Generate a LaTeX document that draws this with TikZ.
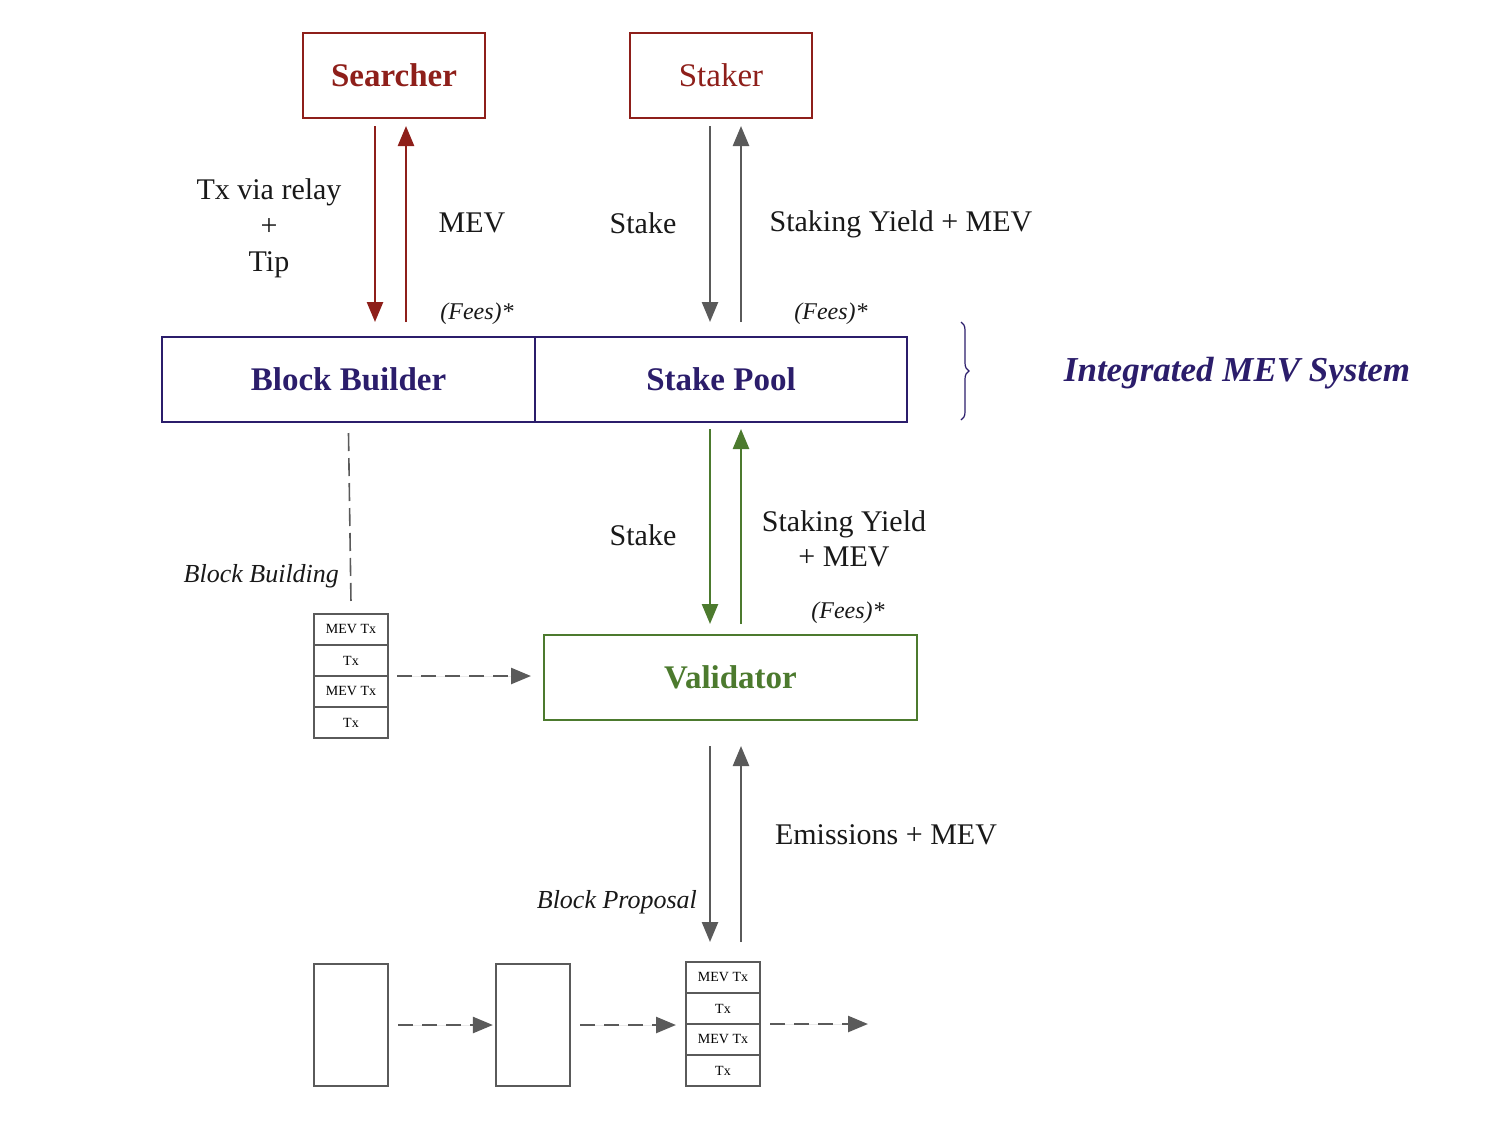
\documentclass[tikz,border=0pt]{standalone}
\usepackage{fontspec}
\setmainfont{Liberation Serif}
\usetikzlibrary{positioning,arrows.meta,decorations.pathreplacing}
\definecolor{mevred}{HTML}{8E1F1A}
\definecolor{mevnavy}{HTML}{2B1D6B}
\definecolor{mevgreen}{HTML}{4C7A2E}
\definecolor{mevgray}{HTML}{5A5A5A}
\tikzset{
    agent-box/.style = {draw=mevred, text=mevred, line width=1pt, rectangle, minimum width=91pt, minimum height=42.5pt, font=\fontsize{16.5}{20}\selectfont},
    system-box/.style = {draw=mevnavy, text=mevnavy, line width=1pt, rectangle, minimum width=186.5pt, minimum height=42.5pt, font=\fontsize{16.5}{20}\selectfont\bfseries},
    validator-box/.style = {system-box, draw=mevgreen, text=mevgreen},
    tx-cell/.style = {draw=mevgray, line width=1.1pt, rectangle, minimum width=37pt, minimum height=15.5pt, inner sep=0pt, outer sep=0pt, font=\fontsize{7}{8}\selectfont},
    empty-block/.style = {draw=mevgray, line width=1.1pt, rectangle, minimum width=37pt, minimum height=61pt},
    flow/.style = {line width=1.25pt, -{Triangle[length=10pt,width=8pt]}},
    flow-red/.style = {flow, draw=mevred, fill=mevred},
    flow-gray/.style = {flow, draw=mevgray, fill=mevgray},
    flow-green/.style = {flow, draw=mevgreen, fill=mevgreen},
    flow-dash/.style = {flow-gray, dash pattern=on 7.5pt off 4.5pt},
    label-text/.style = {font=\fontsize{15}{18}\selectfont, text=black!90, align=center},
    fee-text/.style = {font=\fontsize{12}{14}\selectfont\itshape, text=black!90},
    step-text/.style = {font=\fontsize{13}{15}\selectfont\itshape, text=black!90},
}

\begin{document}
\begin{tikzpicture}[x=0.5pt, y=-0.5pt]
\useasboundingbox (0,0) rectangle (1506,1142);

% top actors
\node [agent-box, font=\fontsize{16.5}{20}\selectfont\bfseries] (searcher) at (394,75.5) {Searcher};
\node [agent-box] (staker) at (721,75.5) {Staker};

% integrated system
\node [system-box] (builder) at (348.5,379.5) {Block Builder};
\node [system-box, minimum width=186pt] (pool) at (721,379.5) {Stake Pool};
\draw [mevnavy, line width=0.6pt, decorate, decoration={brace, amplitude=4pt}] ([xshift=26.5pt,yshift=7pt]pool.north east) -- ([xshift=26.5pt,yshift=1.5pt]pool.south east);
\node [text=mevnavy, font=\fontsize{17.5}{20}\selectfont\bfseries\itshape] (system) at (1237,373) {Integrated MEV System};

\node [validator-box] (validator) at (730.5,677.5) {Validator};

% searcher <-> builder
\draw [flow-red] ([xshift=-9.5pt,yshift=-3.5pt]searcher.south) -- ([xshift=-9.5pt,yshift=7pt]searcher.south |- builder.north);
\draw [flow-red] ([xshift=6pt,yshift=7pt]searcher.south |- builder.north) -- ([xshift=6pt,yshift=-3.5pt]searcher.south);
\node [label-text] (tx-relay) at (269,228) {Tx via relay\\+\\Tip};
\node [label-text] (mev-1) at (472,223) {MEV};
\node [fee-text] (fees-1) at (477,314) {(Fees)*};

% staker <-> pool
\draw [flow-gray] ([xshift=-5.5pt,yshift=-3.5pt]staker.south) -- ([xshift=-5.5pt,yshift=7pt]staker.south |- pool.north);
\draw [flow-gray] ([xshift=10pt,yshift=7pt]staker.south |- pool.north) -- ([xshift=10pt,yshift=-3.5pt]staker.south);
\node [label-text] (stake-1) at (643,223) {Stake};
\node [label-text] (yield-1) at (901,224) {Staking Yield + MEV};
\node [fee-text] (fees-2) at (831,314) {(Fees)*};

% pool <-> validator
\draw [flow-green] ([xshift=-5.5pt,yshift=-3pt]pool.south) -- ([xshift=-5.5pt,yshift=5pt]pool.south |- validator.north);
\draw [flow-green] ([xshift=10pt,yshift=5pt]pool.south |- validator.north) -- ([xshift=10pt,yshift=-3pt]pool.south);
\node [label-text] (stake-2) at (643,535) {Stake};
\node [label-text, font=\fontsize{15}{17.5}\selectfont] (yield-2) at (844,539) {Staking Yield\\+ MEV};
\node [fee-text] (fees-3) at (848,613) {(Fees)*};

% built block
\node [tx-cell] (bb-1) at (351,629.5) {MEV Tx};
\node [tx-cell, below=0pt of bb-1] (bb-2) {Tx};
\node [tx-cell, below=0pt of bb-2] (bb-3) {MEV Tx};
\node [tx-cell, below=0pt of bb-3] (bb-4) {Tx};
\draw [mevgray, line width=0.8pt, dash pattern=on 9pt off 3.5pt] ([yshift=-5pt]builder.south) -- ([yshift=5.5pt]bb-1.north);
\node [step-text, anchor=east] (building) at (346,576) {Block Building};
\draw [flow-dash] ([xshift=4.5pt]bb-2.south east) -- ([xshift=-6pt]validator.west |- bb-2.south east);

% chain
\node [empty-block] (chain-1) at (351,1025) {};
\node [empty-block] (chain-2) at (533,1025) {};
\node [tx-cell] (pb-1) at (723,977.5) {MEV Tx};
\node [tx-cell, below=0pt of pb-1] (pb-2) {Tx};
\node [tx-cell, below=0pt of pb-2] (pb-3) {MEV Tx};
\node [tx-cell, below=0pt of pb-3] (pb-4) {Tx};
\coordinate (chain-next) at (868,1024);
\draw [flow-dash] ([xshift=4.5pt]chain-1.east) -- ([xshift=-1pt]chain-2.west);
\draw [flow-dash] ([xshift=4.5pt]chain-2.east) -- ([xshift=-5pt]chain-2.east -| pb-1.west);
\draw [flow-dash] ([xshift=5pt]pb-2.south east) -- (chain-next);

% validator <-> proposed block
\draw [flow-gray] ([xshift=-10.25pt,yshift=-12.5pt]validator.south) -- ([xshift=-10.25pt,yshift=10pt]validator.south |- pb-1.north);
\draw [flow-gray] ([xshift=5.25pt,yshift=10pt]validator.south |- pb-1.north) -- ([xshift=5.25pt,yshift=-12.5pt]validator.south);
\node [label-text] (emissions) at (886,835) {Emissions + MEV};
\node [step-text, anchor=east] (proposal) at (704,902) {Block Proposal};
\end{tikzpicture}
\end{document}
